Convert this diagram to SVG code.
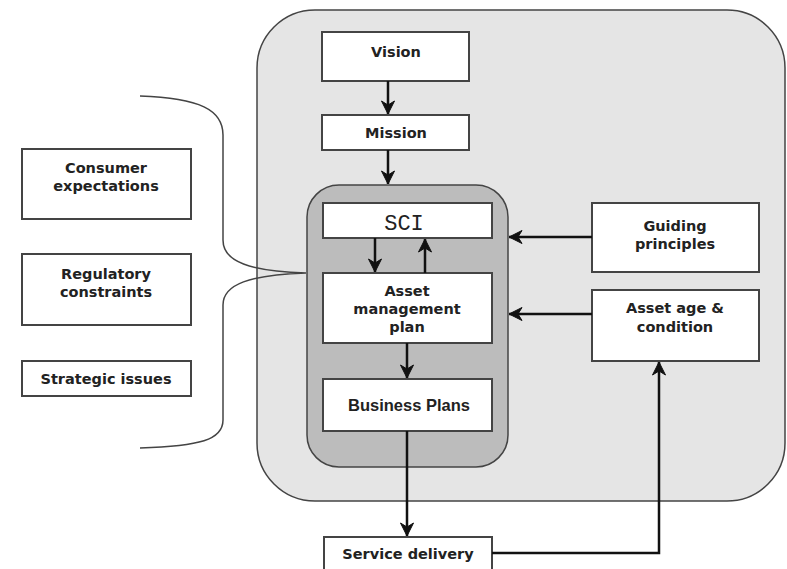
<svg xmlns="http://www.w3.org/2000/svg" width="787" height="569" viewBox="0 0 787 569">
<defs>
<marker id="ah" viewBox="0 0 16 16" refX="15" refY="8" markerWidth="16" markerHeight="16" markerUnits="userSpaceOnUse" orient="auto">
<path d="M2,1.5 L15,8 L2,14.5 L6,8 Z" fill="#111" stroke="#111" stroke-width="1" stroke-linejoin="round"/>
</marker>
</defs>
<style>
.box{fill:#fff;stroke:#444;stroke-width:2}
.t{font-family:"DejaVu Sans",Verdana,sans-serif;font-weight:bold;font-size:14.5px;fill:#222;text-anchor:middle}
.c{fill:none;stroke:#111;stroke-width:2.5}
.br{fill:none;stroke:#444;stroke-width:1.5}
</style>
<rect width="787" height="569" fill="#fff"/>
<g id="outer"><rect x="257" y="10" width="528" height="491" rx="58" fill="#e5e5e5" stroke="#444" stroke-width="1.5"/></g>
<g id="inner"><rect x="307" y="185" width="201" height="282" rx="32" fill="#bcbcbc" stroke="#444" stroke-width="1.5"/></g>
<g id="brace"><path class="br" d="M140,96 C200,98 223,110 223,135 L223,240 C223,262 250,271 306,273 C250,275 223,284 223,305 L223,420 C223,440 200,446 140,448"/></g>
<g id="vision"><rect class="box" x="322" y="32" width="147" height="49"/><text class="t" x="396" y="57">Vision</text></g>
<g id="mission"><rect class="box" x="322" y="115" width="147" height="35"/><text class="t" x="396" y="138">Mission</text></g>
<g id="sci"><rect class="box" x="323" y="203" width="169" height="35"/><text x="404" y="230" font-family="'Liberation Mono','Courier New',monospace" font-size="22" fill="#222" text-anchor="middle">SCI</text></g>
<g id="amp"><rect class="box" x="323" y="273" width="169" height="70"/><text class="t" x="407" y="296">Asset</text><text class="t" x="407" y="314">management</text><text class="t" x="407" y="332">plan</text></g>
<g id="bp"><rect class="box" x="323" y="379" width="169" height="52"/><text x="409" y="411" font-family="'Liberation Sans',Arial,sans-serif" font-weight="bold" font-size="16.5" fill="#222" text-anchor="middle">Business Plans</text></g>
<g id="guiding"><rect class="box" x="592" y="203" width="167" height="69"/><text class="t" x="675" y="231">Guiding</text><text class="t" x="675" y="249">principles</text></g>
<g id="ageCond"><rect class="box" x="592" y="290" width="167" height="71"/><text class="t" x="675" y="313">Asset age &amp;</text><text class="t" x="675" y="332">condition</text></g>
<g id="consumer"><rect class="box" x="22" y="149" width="169" height="70"/><text class="t" x="106" y="173">Consumer</text><text class="t" x="106" y="191">expectations</text></g>
<g id="regulatory"><rect class="box" x="22" y="254" width="169" height="71"/><text class="t" x="106" y="279">Regulatory</text><text class="t" x="106" y="297">constraints</text></g>
<g id="strategic"><rect class="box" x="22" y="361" width="169" height="35"/><text class="t" x="106" y="384">Strategic issues</text></g>
<g id="service"><rect class="box" x="324" y="537" width="168" height="40"/><text class="t" x="408" y="559">Service delivery</text></g>
<g id="connectors">
<line class="c" x1="388" y1="81" x2="388" y2="114" marker-end="url(#ah)"/>
<line class="c" x1="388" y1="150" x2="388" y2="184" marker-end="url(#ah)"/>
<line class="c" x1="375" y1="238" x2="375" y2="272" marker-end="url(#ah)"/>
<line class="c" x1="425" y1="273" x2="425" y2="239" marker-end="url(#ah)"/>
<line class="c" x1="407" y1="343" x2="407" y2="378" marker-end="url(#ah)"/>
<line class="c" x1="407" y1="431" x2="407" y2="536" marker-end="url(#ah)"/>
<line class="c" x1="592" y1="237" x2="509" y2="237" marker-end="url(#ah)"/>
<line class="c" x1="592" y1="314" x2="509" y2="314" marker-end="url(#ah)"/>
<polyline class="c" points="492,553 659,553 659,362" marker-end="url(#ah)"/>
</g>
</svg>
